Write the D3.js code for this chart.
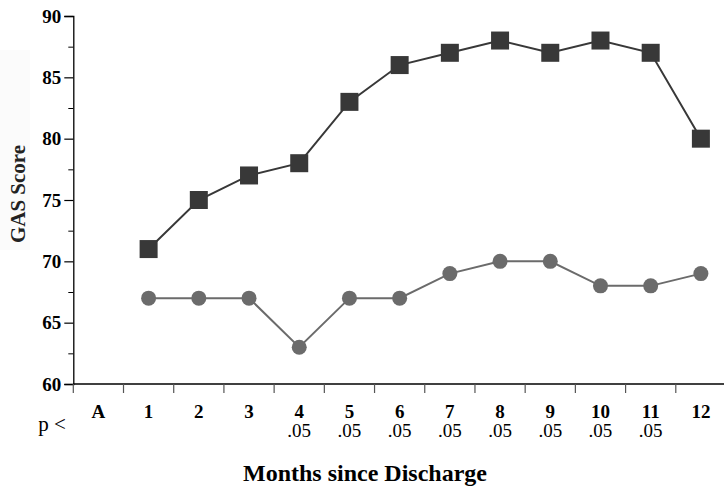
<!DOCTYPE html>
<html>
<head>
<meta charset="utf-8">
<script src="https://cdn.jsdelivr.net/npm/d3@7"></script>
<style>
  html, body { margin: 0; padding: 0; background: #fff; }
  svg { display: block; }
  text { font-family: "Liberation Serif", "Times New Roman", serif; }
</style>
</head>
<body>
<svg id="chart" width="724" height="489"></svg>
<script>
const categories = ["A","1","2","3","4","5","6","7","8","9","10","11","12"];
const pValues = ["","","","",".05",".05",".05",".05",".05",".05",".05",".05",""];
const seriesSquare = [null,71,75,77,78,83,86,87,88,87,88,87,80];
const seriesCircle = [null,67,67,67,63,67,67,69,70,70,68,68,69];
const yTicks = [60,65,70,75,80,85,90];
const yMinorTicks = [62.5,67.5,72.5,77.5,82.5,87.5];

const svg = d3.select("#chart");
const x = d3.scaleBand().domain(categories).range([73.3, 726]).padding(0);
const y = d3.scaleLinear().domain([60, 90]).range([384, 16]);
const bw = x.bandwidth();

// very faint shaded area behind the y title (as in original scan)
svg.append("rect").attr("x", 0).attr("y", 50).attr("width", 30).attr("height", 200).attr("fill", "#fbfbfb");

// Y axis
const yAxis = d3.axisLeft(y).tickValues(yTicks).tickSize(9).tickPadding(3).tickFormat(d3.format("d"));
const gy = svg.append("g").attr("transform", "translate(73.3,0)").call(yAxis);
gy.select(".domain").attr("stroke", "#000").attr("stroke-width", 1.3);
gy.selectAll(".tick line").attr("stroke", "#000").attr("stroke-width", 1.2);
gy.selectAll(".tick text").attr("font-size", 19).attr("font-weight", "bold")
  .attr("font-family", "Liberation Serif, serif").attr("fill", "#000");

const yMinor = d3.axisLeft(y).tickValues(yMinorTicks).tickSize(5).tickFormat("");
const gym = svg.append("g").attr("transform", "translate(73.3,0)").call(yMinor);
gym.select(".domain").remove();
gym.selectAll(".tick line").attr("stroke", "#000").attr("stroke-width", 1);

// X axis line
svg.append("line").attr("x1", 73.3).attr("x2", 724).attr("y1", y(60)).attr("y2", y(60))
  .attr("stroke", "#000").attr("stroke-width", 1.3);

// X ticks at band boundaries
svg.append("g").selectAll("line").data(categories).join("line")
  .attr("x1", d => x(d)).attr("x2", d => x(d))
  .attr("y1", y(60)).attr("y2", y(60) + 9)
  .attr("stroke", "#555").attr("stroke-width", 1.2);

// X labels
svg.append("g").selectAll("text").data(categories).join("text")
  .attr("x", d => x(d) + bw / 2).attr("y", 418)
  .attr("text-anchor", "middle").attr("font-size", 19).attr("font-weight", "bold")
  .text(d => d);

svg.append("g").selectAll("text").data(categories).join("text")
  .attr("x", d => x(d) + bw / 2).attr("y", 437)
  .attr("text-anchor", "middle").attr("font-size", 19)
  .text((d, i) => pValues[i]);

svg.append("text").attr("x", 52).attr("y", 431).attr("text-anchor", "middle")
  .attr("font-size", 21).text("p <");

// Axis titles
svg.append("text").attr("x", 365).attr("y", 481).attr("text-anchor", "middle")
  .attr("font-size", 24).attr("font-weight", "bold").text("Months since Discharge");

svg.append("text").attr("transform", "translate(25,194) rotate(-90)")
  .attr("text-anchor", "middle").attr("font-size", 21).attr("font-weight", "bold")
  .attr("fill", "#222").text("GAS Score");

// Data
const dataSq = categories.map((c, i) => ({c, v: seriesSquare[i]})).filter(d => d.v != null);
const dataCi = categories.map((c, i) => ({c, v: seriesCircle[i]})).filter(d => d.v != null);
const line = d3.line().x(d => x(d.c) + bw / 2).y(d => y(d.v));

svg.append("path").datum(dataCi).attr("d", line).attr("fill", "none")
  .attr("stroke", "#6b6b6b").attr("stroke-width", 2);
svg.append("g").selectAll("circle").data(dataCi).join("circle")
  .attr("cx", d => x(d.c) + bw / 2).attr("cy", d => y(d.v)).attr("r", 7.5)
  .attr("fill", "#6b6b6b");

svg.append("path").datum(dataSq).attr("d", line).attr("fill", "none")
  .attr("stroke", "#383838").attr("stroke-width", 2);
const s = 18;
svg.append("g").selectAll("rect").data(dataSq).join("rect")
  .attr("x", d => x(d.c) + bw / 2 - s / 2).attr("y", d => y(d.v) - s / 2)
  .attr("width", s).attr("height", s).attr("fill", "#383838");
</script>
</body>
</html>
